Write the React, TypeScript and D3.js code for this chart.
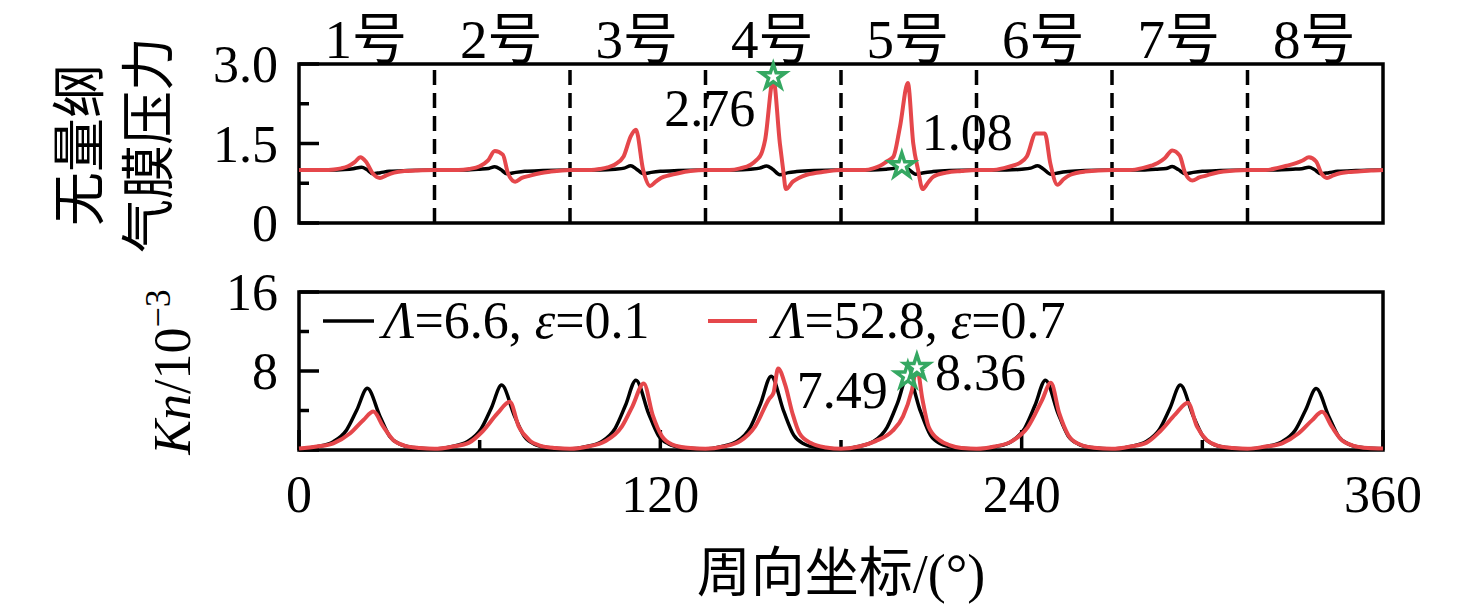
import * as d3 from 'd3';

// pad names along the top
const padLabels = ['1号', '2号', '3号', '4号', '5号', '6号', '7号', '8号'];
const padBounds = [45, 90, 135, 180, 225, 270, 315];

const xTicksMajor = [0, 120, 240, 360];
const xTicksMinor = [60, 180, 300];
const pressureTicks = [0, 1.5, 3.0];
const pressureMinor = [0.75, 2.25];
const knTicks = [0, 8, 16];
const knMinor = [4, 12];

// dimensionless film pressure, Λ=6.6, ε=0.1
const pressureLow: [number, number][] = [
  [0, 1.0], [10, 1.0], [15, 1.01], [18, 1.025], [20.8, 1.05], [22.5, 1.01], [24.5, 0.93], [27, 0.95], [30, 0.975], [36, 0.99],
  [45, 1.0], [55, 1.0], [60, 1.015], [63, 1.03], [65, 1.06], [67, 1.01], [69, 0.93], [72, 0.955], [75, 0.975], [81, 0.99],
  [90, 1.0], [100, 1.0], [105, 1.015], [108, 1.035], [110.2, 1.08], [112, 1.02], [114.5, 0.93], [117, 0.955], [120, 0.975], [126, 0.99],
  [135, 1.0], [145, 1.0], [150, 1.015], [153, 1.035], [155.3, 1.075], [157.2, 1.02], [159.7, 0.91], [162.5, 0.95], [165.3, 0.97], [171, 0.99],
  [180, 1.0], [190, 1.0], [195, 1.015], [198, 1.035], [200.5, 1.07], [202.3, 1.02], [204.8, 0.92], [207.5, 0.95], [210.5, 0.97], [216, 0.99],
  [225, 1.0], [235, 1.0], [240, 1.015], [243, 1.035], [245.3, 1.08], [247.2, 1.02], [249.7, 0.92], [252.5, 0.95], [255.5, 0.97], [261, 0.99],
  [270, 1.0], [280, 1.0], [285, 1.015], [288, 1.03], [290, 1.065], [292, 1.01], [294.3, 0.93], [297, 0.955], [300, 0.975], [306, 0.99],
  [315, 1.0], [325, 1.0], [330, 1.015], [333, 1.025], [335.4, 1.05], [337.2, 1.01], [339.3, 0.93], [342, 0.95], [345, 0.975], [351, 0.99], [360, 1.0],
];

// dimensionless film pressure, Λ=52.8, ε=0.7
const pressureHigh: [number, number][] = [
  [0, 1.0], [8, 1.0], [11.6, 1.01], [14, 1.03], [16.3, 1.07], [18.5, 1.15], [20.4, 1.24], [22.2, 1.16], [24.6, 0.93], [26.9, 0.85], [29, 0.9], [31.6, 0.95], [35, 0.98], [38.7, 0.99],
  [45, 1.0], [53, 1.0], [56.5, 1.02], [60, 1.07], [62.8, 1.18], [65, 1.36], [67.7, 1.29], [69.4, 0.94], [71.8, 0.78], [74, 0.85], [76.5, 0.89], [80, 0.94], [83.6, 0.97],
  [90, 1.0], [97, 1.0], [100, 1.02], [102.5, 1.05], [104.8, 1.1], [107.8, 1.255], [110.2, 1.64], [111.9, 1.76], [114.3, 1.0], [116.6, 0.7], [118.5, 0.78], [120.2, 0.85], [123, 0.9], [126, 0.94], [130, 0.98],
  [135, 1.0], [143, 1.0], [146.5, 1.03], [150, 1.1], [152, 1.19], [153.5, 1.3], [154.8, 1.57], [157.5, 2.72], [159.7, 1.5], [160.8, 1.0], [161.7, 0.64], [164, 0.78], [166, 0.85], [168.6, 0.91], [175, 0.97],
  [180, 1.0], [188, 1.0], [190.7, 1.03], [193, 1.08], [195.2, 1.16], [197.4, 1.25], [199.6, 1.82], [202.2, 2.64], [204, 1.5], [205.6, 1.0], [207.1, 0.64], [209, 0.77], [210.6, 0.87], [215, 0.95], [220, 0.98],
  [225, 1.0], [230, 1.0], [234.4, 1.04], [237, 1.08], [239.3, 1.13], [241.7, 1.255], [244.7, 1.69], [247.7, 1.69], [249.5, 1.13], [251.9, 0.72], [254, 0.83], [256.2, 0.91], [261, 0.97],
  [270, 1.0], [276, 1.0], [280.4, 1.04], [283, 1.08], [285.2, 1.13], [287.5, 1.22], [290, 1.37], [292.5, 1.27], [294.3, 0.94], [296.7, 0.8], [299, 0.86], [301, 0.89], [304, 0.94], [307, 0.97],
  [315, 1.0], [321, 1.0], [325.1, 1.04], [328, 1.08], [331.1, 1.13], [333.3, 1.18], [335.4, 1.24], [337.8, 1.16], [339.6, 0.93], [341.4, 0.85], [343.5, 0.9], [345.7, 0.94], [348.5, 0.96], [351.7, 0.97], [356, 0.99], [360, 1.0],
];

// Knudsen number (x 10^-3), Λ=6.6, ε=0.1
const knLow: [number, number][] = [
  [0, 0.1], [5.9, 0.33], [11.4, 0.84], [15.8, 2.03], [19.2, 4.05], [22.7, 6.25], [26.9, 3.4], [30.2, 1.35], [33.5, 0.6], [38, 0.25],
  [45, 0.1], [50.5, 0.33], [56, 0.85], [60.4, 2.1], [63.8, 4.2], [67.3, 6.57], [71.5, 3.5], [74.8, 1.4], [78.1, 0.6], [82.6, 0.25],
  [90, 0.1], [95.1, 0.33], [100.6, 0.87], [105, 2.2], [108.4, 4.5], [111.9, 7.07], [116.1, 3.7], [119.4, 1.45], [122.7, 0.62], [127.2, 0.25],
  [135, 0.1], [140, 0.33], [145.5, 0.88], [149.9, 2.3], [153.3, 4.7], [156.8, 7.47], [161, 3.9], [164.3, 1.5], [167.6, 0.63], [172.1, 0.25],
  [180, 0.1], [185.4, 0.33], [190.9, 0.88], [195.3, 2.3], [198.7, 4.7], [202.2, 7.49], [206.4, 3.9], [209.7, 1.5], [213, 0.63], [217.5, 0.25],
  [225, 0.1], [231.1, 0.33], [236.6, 0.87], [241, 2.2], [244.4, 4.5], [247.9, 7.07], [252.1, 3.7], [255.4, 1.45], [258.7, 0.62], [263.2, 0.25],
  [270, 0.1], [275.9, 0.33], [281.4, 0.85], [285.8, 2.1], [289.2, 4.2], [292.7, 6.57], [296.9, 3.5], [300.2, 1.4], [303.5, 0.6], [308, 0.25],
  [315, 0.1], [321, 0.33], [326.5, 0.84], [330.9, 2.03], [334.3, 4.05], [337.8, 6.23], [342, 3.4], [345.3, 1.35], [348.6, 0.6], [353.1, 0.25], [360, 0.12],
];

// Knudsen number (x 10^-3), Λ=52.8, ε=0.7
const knHigh: [number, number][] = [
  [0, 0.15], [5.9, 0.35], [11.4, 0.68], [17, 1.69], [21.4, 3.04], [24.7, 3.9], [28, 2.36], [31.3, 1.0], [35, 0.45], [40, 0.2],
  [45, 0.12], [51, 0.35], [56.5, 0.75], [61, 1.9], [65.9, 3.7], [70, 4.88], [73, 2.36], [76.5, 1.0], [80, 0.45], [85, 0.2],
  [90, 0.12], [96, 0.35], [101.5, 0.85], [107.2, 2.36], [110.7, 4.4], [114.5, 6.73], [117.5, 3.5], [120.5, 1.4], [124, 0.55], [129, 0.22],
  [135, 0.12], [141, 0.35], [146.5, 0.9], [151.5, 2.4], [156.2, 5.2], [157.6, 5.8], [159.1, 8.25], [161.5, 6.56], [163.9, 3.7], [166.2, 1.7], [170, 0.7], [175, 0.25],
  [180, 0.12], [186, 0.35], [191.5, 0.9], [197, 1.9], [200.6, 3.4], [203.5, 6.0], [205.2, 8.36], [207, 5.2], [209.1, 2.36], [212.7, 1.0], [216, 0.5], [220, 0.2],
  [225, 0.12], [231, 0.35], [236.5, 0.85], [242, 2.3], [246.7, 5.0], [249.7, 6.8], [252.5, 3.7], [255.5, 1.5], [259, 0.6], [264, 0.22],
  [270, 0.12], [276, 0.35], [281.5, 0.75], [286, 1.9], [291, 3.6], [295.2, 4.78], [298.2, 2.4], [301.5, 1.0], [305, 0.45], [310, 0.2],
  [315, 0.12], [321, 0.35], [326.5, 0.68], [332, 1.69], [336.4, 3.0], [339.8, 3.87], [343, 2.36], [346.3, 1.0], [350, 0.45], [355, 0.2], [360, 0.15],
];

// star markers: [angle, value, text]
const pressureMarks: [number, number, string][] = [[157.5, 2.76, '2.76'], [200.2, 1.08, '1.08']];
const knMarks: [number, number, string][] = [[202.2, 7.49, '7.49'], [205.2, 8.36, '8.36']];

const W = 1476;
const H = 612;
const serif = "'Liberation Serif', 'Noto Sans CJK SC', serif";
const BLACK = '#000';
const RED = '#e5474b';
const GREEN = '#35a862';
const AXW = 3.5;

const x = d3.scaleLinear().domain([0, 360]).range([299, 1383]);
const yP = d3.scaleLinear().domain([0, 3]).range([223, 64]);
const yK = d3.scaleLinear().domain([0, 16]).range([450, 292]);

const lineP = d3.line<[number, number]>().x(d => x(d[0])).y(d => yP(d[1])).curve(d3.curveMonotoneX);
const lineK = d3.line<[number, number]>().x(d => x(d[0])).y(d => yK(d[1])).curve(d3.curveMonotoneX);
const star = d3.symbol().type(d3.symbolStar).size(185)();

const App = () => {
  const [x0, x1] = x.range();
  const fs = 52;

  return (
    <div style={{ position: 'fixed', left: 0, top: 0 }}>
      <svg width={W} height={H} viewBox={`0 0 ${W} ${H}`} style={{ display: 'block', background: '#fff' }}>
        <g fontFamily={serif} fill={BLACK}>
          {/* pad labels */}
          {padLabels.map((t, i) => (
            <text key={t} x={x(22.5 + 45 * i) - 1} y={58} fontSize={55} textAnchor="middle">{t}</text>
          ))}

          {/* ---- top panel ---- */}
          {padBounds.map(b => (
            <line key={b} x1={x(b)} x2={x(b)} y1={yP(3)} y2={yP(0)} stroke={BLACK} strokeWidth={AXW} strokeDasharray="15,8" strokeDashoffset={-6} />
          ))}
          {pressureTicks.map(v => (
            <g key={v}>
              <line x1={x0} x2={x0 + 20} y1={yP(v)} y2={yP(v)} stroke={BLACK} strokeWidth={AXW} />
              <text x={278} y={yP(v) + 18} fontSize={fs} textAnchor="end">{v === 0 ? '0' : v.toFixed(1)}</text>
            </g>
          ))}
          {pressureMinor.map(v => (
            <line key={v} x1={x0} x2={x0 + 10} y1={yP(v)} y2={yP(v)} stroke={BLACK} strokeWidth={AXW} />
          ))}
          <rect x={x0} y={yP(3)} width={x1 - x0} height={yP(0) - yP(3)} fill="none" stroke={BLACK} strokeWidth={AXW} />
          <path d={lineP(pressureLow) || ''} fill="none" stroke={BLACK} strokeWidth={3.5} strokeLinejoin="round" />
          <path d={lineP(pressureHigh) || ''} fill="none" stroke={RED} strokeWidth={4} strokeLinejoin="round" />

          <text transform="translate(99,145) rotate(-90)" fontSize={54} textAnchor="middle">无量纲</text>
          <text transform="translate(168,145) rotate(-90)" fontSize={54} textAnchor="middle">气膜压力</text>

          {/* ---- bottom panel ---- */}
          {knTicks.map(v => (
            <g key={v}>
              <line x1={x0} x2={x0 + 20} y1={yK(v)} y2={yK(v)} stroke={BLACK} strokeWidth={AXW} />
              {v !== 0 && <text x={278} y={yK(v) + 18} fontSize={fs} textAnchor="end">{v}</text>}
            </g>
          ))}
          {knMinor.map(v => (
            <line key={v} x1={x0} x2={x0 + 10} y1={yK(v)} y2={yK(v)} stroke={BLACK} strokeWidth={AXW} />
          ))}
          {xTicksMajor.map(v => (
            <g key={v}>
              <line x1={x(v)} x2={x(v)} y1={yK(0)} y2={yK(0) - 20} stroke={BLACK} strokeWidth={AXW} />
              <text x={x(v)} y={512} fontSize={fs} textAnchor="middle">{v}</text>
            </g>
          ))}
          {xTicksMinor.map(v => (
            <line key={v} x1={x(v)} x2={x(v)} y1={yK(0)} y2={yK(0) - 10} stroke={BLACK} strokeWidth={AXW} />
          ))}
          <rect x={x0} y={yK(16)} width={x1 - x0} height={yK(0) - yK(16)} fill="none" stroke={BLACK} strokeWidth={AXW} />
          <path d={lineK(knLow) || ''} fill="none" stroke={BLACK} strokeWidth={3.5} strokeLinejoin="round" />
          <path d={lineK(knHigh) || ''} fill="none" stroke={RED} strokeWidth={4} strokeLinejoin="round" />

          {/* legend */}
          <line x1={323} x2={374} y1={321} y2={321} stroke={BLACK} strokeWidth={3.5} />
          <text x={383} y={338} fontSize={fs}>
            <tspan fontStyle="italic">Λ</tspan>=6.6, <tspan fontStyle="italic">ε</tspan>=0.1
          </text>
          <line x1={708} x2={757} y1={321} y2={321} stroke={RED} strokeWidth={4} />
          <text x={773} y={338} fontSize={fs}>
            <tspan fontStyle="italic">Λ</tspan>=52.8, <tspan fontStyle="italic">ε</tspan>=0.7
          </text>

          <text transform="translate(190,372) rotate(-90)" fontSize={fs} textAnchor="middle">
            <tspan fontStyle="italic">Kn</tspan>/10<tspan fontSize={36} dy={-20}>−3</tspan>
          </text>

          {/* star markers and their values */}
          {pressureMarks.map(([a, v, t], i) => (
            <g key={t}>
              <path d={star} transform={`translate(${x(a)},${yP(v)})`} fill="#fff" stroke={GREEN} strokeWidth={3.5} />
              {i === 0
                ? <text x={x(a) - 18} y={yP(v) + 49} fontSize={fs} textAnchor="end">{t}</text>
                : <text x={x(a) + 20} y={yP(v) - 16} fontSize={fs}>{t}</text>}
            </g>
          ))}
          {knMarks.map(([a, v, t], i) => (
            <g key={t}>
              <path d={star} transform={`translate(${x(a)},${yK(v)})`} fill="#fff" stroke={GREEN} strokeWidth={3.5} />
              {i === 0
                ? <text x={x(a) - 20} y={yK(v) + 32} fontSize={fs} textAnchor="end">{t}</text>
                : <text x={x(a) + 18} y={yK(v) + 23} fontSize={fs}>{t}</text>}
            </g>
          ))}

          <text x={(x0 + x1) / 2} y={592} fontSize={54} textAnchor="middle">周向坐标/(°)</text>
        </g>
      </svg>
    </div>
  );
};

export default App;
